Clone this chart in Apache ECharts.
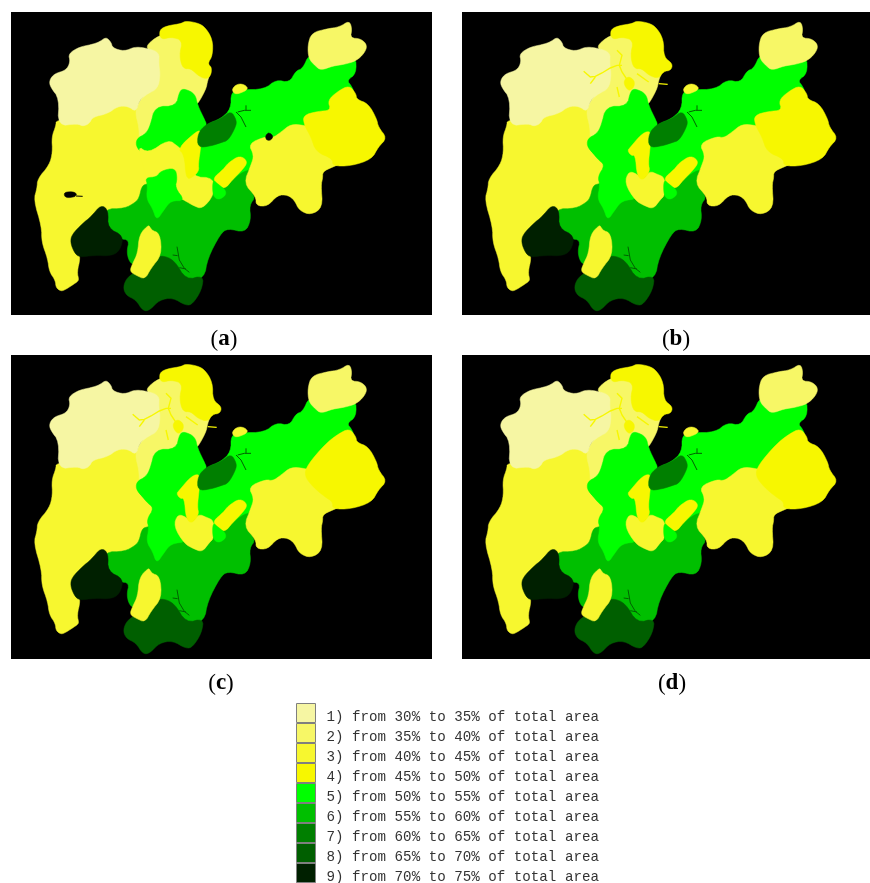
<!DOCTYPE html>
<html>
<head>
<meta charset="utf-8">
<style>html,body{margin:0;padding:0;background:#fff}#chart{width:870px;height:883px}</style>
<script src="https://cdn.jsdelivr.net/npm/echarts@6/dist/echarts.min.js"></script>
</head>
<body>
<div id="chart"></div>
<script>
// Class labels and colours
const classLabels = ['1) from 30% to 35% of total area','2) from 35% to 40% of total area','3) from 40% to 45% of total area','4) from 45% to 50% of total area','5) from 50% to 55% of total area','6) from 55% to 60% of total area','7) from 60% to 65% of total area','8) from 65% to 70% of total area','9) from 70% to 75% of total area'];
const classColors = ['#000000','#F6F6A3','#F7F766','#F7F72F','#F7F700','#00FF00','#00BF00','#007F00','#005F00','#002000'];

// Region outlines, in map units. Later regions are painted over earlier ones.
const WEST = [[135,325],[200,320],[240,300],[290,290],[325,270],[355,270],[385,290],[395,345],[395,400],[430,440],[445,460],[425,500],[425,525],[397,535],[397,570],[375,595],[345,615],[290,610],[262,595],[240,625],[215,645],[197,670],[197,700],[200,720],[208,738],[198,780],[204,805],[195,812],[165,832],[150,838],[135,827],[133,805],[115,779],[110,740],[92,690],[92,644],[68,564],[78,529],[80,500],[115,459],[125,420],[122,375],[135,340]];
const MID_NORTH = [[400,105],[445,68],[480,70],[520,85],[570,160],[600,180],[590,205],[585,232],[558,280],[550,270],[510,260],[500,310],[440,320],[420,370],[385,390],[384,345],[372,300],[385,265],[440,200],[430,120]];
const PALE = [[115,205],[130,185],[165,175],[178,150],[172,125],[205,105],[240,98],[265,90],[285,75],[300,90],[305,108],[340,118],[370,105],[400,107],[445,120],[443,155],[448,190],[440,230],[410,245],[385,265],[375,300],[350,282],[320,283],[290,305],[245,315],[235,335],[215,343],[200,335],[140,342],[145,260],[118,225]];
const NORTH_A = [[445,72],[448,50],[475,40],[510,35],[520,28],[550,30],[580,42],[605,82],[605,130],[590,155],[602,165],[600,190],[585,202],[560,190],[540,170],[515,170],[505,130],[515,85],[480,75],[455,82]];
const NORTH_B = [[445,72],[448,50],[475,40],[510,35],[520,28],[550,30],[580,42],[605,82],[605,135],[632,155],[627,175],[605,178],[590,200],[560,190],[540,170],[515,170],[505,130],[515,85],[480,75],[455,82]];
const SOUTH_GREEN = [[280,590],[340,590],[375,570],[385,555],[392,524],[405,515],[500,500],[630,500],[690,475],[715,455],[720,459],[700,514],[735,554],[715,579],[720,624],[702,662],[650,649],[628,666],[590,739],[580,798],[525,815],[480,755],[445,745],[430,700],[410,700],[395,740],[372,760],[355,750],[347,719],[355,684],[325,680],[275,650]];
const SOUTH_DARK = [[450,729],[490,744],[525,804],[578,790],[572,834],[545,876],[525,881],[485,857],[445,864],[415,896],[395,896],[375,864],[345,850],[336,824],[350,794],[385,775],[420,745]];
const SOUTH_STRIP = [[385,667],[415,636],[420,654],[447,664],[452,729],[420,769],[402,802],[375,790],[356,778],[365,754],[380,724]];
const SW_DARK = [[183,667],[215,634],[240,614],[270,578],[292,594],[290,649],[338,671],[327,716],[300,732],[250,730],[205,736],[190,722],[178,691]];
const BAND = [[660,240],[690,233],[760,232],[795,203],[835,212],[855,176],[875,170],[895,125],[925,150],[970,140],[1034,130],[1036,185],[1008,205],[1020,220],[1030,240],[990,260],[970,300],[930,330],[890,360],[850,360],[810,385],[770,395],[740,420],[740,440],[722,470],[690,480],[640,525],[600,520],[550,500],[545,445],[550,420],[560,400],[575,370],[585,338],[630,320],[660,290]];
const NE_TOP = [[890,100],[902,62],[950,50],[985,45],[1015,26],[1023,50],[1018,78],[1050,80],[1069,100],[1060,124],[1035,147],[1000,157],[965,162],[930,175],[913,162],[893,140]];
const SE_YELLOW = [[712,395],[765,373],[785,378],[810,360],[840,336],[880,340],[920,350],[950,400],[990,430],[990,455],[965,465],[935,479],[935,499],[930,519],[935,586],[900,609],[865,596],[850,564],[830,549],[800,549],[770,583],[735,581],[735,554],[698,514],[720,459],[729,430]];
const EAST_AB = [[876,310],[920,298],[960,295],[950,265],[980,238],[1015,220],[1035,245],[1037,262],[1072,275],[1097,320],[1102,345],[1128,378],[1102,405],[1082,442],[1020,462],[965,462],[965,440],[915,420],[900,375],[880,340]];
const EAST_CD = [[880,362],[889,330],[942,268],[980,238],[1015,220],[1035,245],[1037,262],[1072,275],[1097,320],[1102,345],[1128,378],[1102,405],[1082,442],[1020,462],[965,462],[965,440],[942,426],[905,395]];
const NORTH_GREEN = [[376,408],[376,380],[405,365],[418,340],[432,283],[495,283],[506,236],[520,230],[552,245],[560,280],[582,325],[587,338],[575,380],[560,420],[505,420],[472,400],[412,440]];
const WEST_ARM = [[378,400],[412,424],[472,382],[502,404],[530,429],[545,495],[609,497],[609,549],[574,591],[547,581],[522,566],[500,555],[478,525],[478,500],[450,500],[440,515],[412,510],[405,490]];
const GREEN_A = [[403,497],[437,495],[449,477],[492,467],[499,499],[492,527],[522,566],[480,566],[460,592],[437,626],[425,590],[406,560],[410,520]];
const GREEN_BCD = [[376,402],[407,442],[429,459],[407,494],[414,519],[406,560],[425,590],[437,626],[460,592],[480,566],[530,560],[510,515],[520,485],[530,490],[530,420],[502,404],[472,382],[412,424]];
const CENTER_Y = [[488,514],[500,477],[527,487],[542,504],[562,477],[587,487],[609,497],[609,549],[594,564],[574,591],[547,581],[520,566]];
const STRIP_A = [[500,409],[557,357],[571,357],[569,409],[562,454],[564,479],[537,501],[525,496],[520,429]];
const STRIP_B = [[502,409],[542,362],[569,357],[564,409],[559,454],[564,479],[542,506],[525,491],[520,429],[507,431],[497,416]];
const STRIP_E = [[605,499],[637,472],[652,452],[687,430],[711,449],[694,474],[664,504],[642,531],[620,519]];
const SMALL_GREEN = [[605,502],[622,517],[644,534],[644,551],[622,564],[605,551]];
const DARK_NOTCH = [[560,365],[585,336],[630,320],[660,296],[677,325],[674,345],[652,385],[630,392],[600,402],[560,407]];
const PATCH = [[663,230],[680,215],[702,218],[712,232],[685,245],[668,245]];
const HOLE = [[763,372],[773,360],[787,372],[780,385],[766,385]];
const SPOT = [[158,540],[192,539],[199,553],[163,559]];
const BLOB = [[486,205],[500,193],[517,205],[517,224],[502,238],[488,222]];

const regions = [
  ['West', WEST], ['Mid north', MID_NORTH], ['Pale north-west', PALE], ['North A', NORTH_A], ['North B', NORTH_B],
  ['South green', SOUTH_GREEN], ['South dark', SOUTH_DARK], ['South strip', SOUTH_STRIP], ['South-west dark', SW_DARK],
  ['Band', BAND], ['North-east', NE_TOP], ['South-east', SE_YELLOW], ['East AB', EAST_AB], ['East CD', EAST_CD],
  ['North green', NORTH_GREEN], ['West arm', WEST_ARM], ['Green A', GREEN_A], ['Green BCD', GREEN_BCD], ['Center', CENTER_Y],
  ['Strip A', STRIP_A], ['Strip B', STRIP_B], ['Strip E', STRIP_E], ['Small green', SMALL_GREEN], ['Dark notch', DARK_NOTCH],
  ['Patch', PATCH], ['Hole', HOLE], ['Spot', SPOT], ['Blob', BLOB]
];

// Class of each region per panel, same order as regions (null: region not in this panel)
const classesA = [3,2,1,4,null,6,8,3,9,5,2,3,4,null,5,3,5,null,null,4,null,4,5,7,3,0,0,null];
const classesB = [3,2,1,null,4,6,8,3,9,5,2,3,4,null,5,null,null,5,3,null,4,4,5,7,3,null,null,4];
const classesC = [3,2,1,null,4,6,8,3,9,5,2,3,null,4,5,null,null,5,3,null,4,4,5,7,3,null,null,4];
const classesD = [3,2,1,null,4,6,8,3,9,5,2,3,null,4,5,null,null,5,3,null,4,4,5,7,3,null,null,4];

// Water lines, map units
const darkRivers = [
  [[675,300],[690,315],[705,345]], [[680,300],[700,295],[720,295]], [[705,280],[705,295]],
  [[498,704],[505,744],[520,769],[535,781]], [[485,729],[500,731]], [[505,767],[525,771]]
];
const blackTail = [[[195,552],[215,553]]];
const yellowRivers = [
  [[365,178],[385,195],[400,193],[420,183],[445,168],[465,160],[480,160]], [[385,215],[400,195]],
  [[465,115],[480,130],[472,160],[480,180],[500,210]], [[465,225],[472,255]], [[525,185],[560,210]],
  [[590,215],[617,217]]
];

const panels = [
  {id:'a', classes:classesA, left:11,  top:12,  w:421, h:303, water:false, capX:224, capY:328},
  {id:'b', classes:classesB, left:462, top:12,  w:408, h:303, water:true,  capX:676, capY:328},
  {id:'c', classes:classesC, left:11,  top:355, w:421, h:304, water:true,  capX:221, capY:672},
  {id:'d', classes:classesD, left:462, top:355, w:408, h:304, water:true,  capX:672, capY:672}
];

// Outlines are drawn with rounded corners, as the reference boundaries are rounded
function roundCorners(ring, passes) {
  let pts = ring;
  for (let n = 0; n < passes; n++) {
    const next = [];
    pts.forEach((a, i) => {
      const b = pts[(i + 1) % pts.length];
      next.push([a[0] * 0.75 + b[0] * 0.25, a[1] * 0.75 + b[1] * 0.25]);
      next.push([a[0] * 0.25 + b[0] * 0.75, a[1] * 0.25 + b[1] * 0.75]);
    });
    pts = next;
  }
  return pts;
}

const identity = {project:p => p, unproject:p => p};
const bounds = [[0,0],[1263,909]];
const series = [];
const geo = [];
const grid = [];
const xAxis = [];
const yAxis = [];
const title = [];

panels.forEach((p, i) => {
  const mapName = 'basin-' + p.id;
  const used = regions.filter((r, k) => p.classes[k] !== null);
  const usedClasses = p.classes.filter(c => c !== null);
  echarts.registerMap(mapName, {
    type:'FeatureCollection',
    features: used.map(([name, ring]) => {
      const r = roundCorners(ring, 2);
      return {type:'Feature', properties:{name}, geometry:{type:'Polygon', coordinates:[r.concat([r[0]])]}};
    })
  });
  grid.push({show:true, left:p.left, top:p.top, width:p.w, height:p.h, backgroundColor:'#000', borderWidth:0, z:0});
  xAxis.push({type:'value', gridIndex:i, show:false, min:0, max:1});
  yAxis.push({type:'value', gridIndex:i, show:false, min:0, max:1});
  geo.push({
    map:mapName, projection:identity, boundingCoords:bounds, left:p.left, top:p.top, width:421, height:303, silent:true, z:1,
    itemStyle:{areaColor:'transparent', borderWidth:0, borderColor:'transparent'},
    emphasis:{disabled:true}, select:{disabled:true}, label:{show:false}
  });
  series.push({
    type:'map', name:'panel ' + p.id, map:mapName, projection:identity, boundingCoords:bounds,
    left:p.left, top:p.top, width:421, height:303, silent:true, z:2, selectedMode:false, showLegendSymbol:false,
    label:{show:false}, emphasis:{disabled:true},
    itemStyle:{borderWidth:0},
    data: used.map(([name], k) => {
      const col = classColors[usedClasses[k]];
      return {name, value:usedClasses[k], itemStyle:{areaColor:col, borderWidth:0.5, borderColor:col}};
    })
  });
  series.push({
    type:'lines', coordinateSystem:'geo', geoIndex:i, polyline:true, silent:true, z:3,
    lineStyle:{color:'#006000', width:1, opacity:1},
    data: darkRivers.map(coords => ({coords}))
  });
  if (p.water) {
    series.push({
      type:'lines', coordinateSystem:'geo', geoIndex:i, polyline:true, silent:true, z:3,
      lineStyle:{color:'#F7F700', width:1.4, opacity:1},
      data: yellowRivers.map(coords => ({coords}))
    });
  } else {
    series.push({
      type:'lines', coordinateSystem:'geo', geoIndex:i, polyline:true, silent:true, z:3,
      lineStyle:{color:'#000', width:1, opacity:1},
      data: blackTail.map(coords => ({coords}))
    });
  }
  title.push({
    text:'({b|' + p.id + '})', left:p.capX, top:p.capY, textAlign:'center', padding:0,
    textStyle:{fontFamily:'Liberation Serif', fontSize:23, fontWeight:'normal', color:'#000',
      rich:{b:{fontFamily:'Liberation Serif', fontSize:23, fontWeight:'bold', color:'#000'}}}
  });
});

// Legend entries are carried by empty series on a hidden axis pair
classLabels.forEach((name, k) => {
  series.push({type:'scatter', name, xAxisIndex:0, yAxisIndex:0, data:[], itemStyle:{color:classColors[k + 1], opacity:1}});
});

const chart = echarts.init(document.getElementById('chart'), null, {renderer:'canvas'});
chart.setOption({
  animation:false, backgroundColor:'#fff', title, grid, xAxis, yAxis, geo, series,
  legend:{
    orient:'vertical', left:296, top:703, height:220, padding:0, itemGap:-1, itemWidth:19, itemHeight:19, icon:'rect',
    selectedMode:false, data:classLabels,
    itemStyle:{borderColor:'#7f7f7f', borderWidth:1, opacity:1},
    formatter:name => '{t|' + name + '}',
    textStyle:{rich:{t:{fontFamily:'Liberation Mono', fontSize:14.2, color:'#333', padding:[8,0,0,6], height:11, lineHeight:11}}}
  }
});
</script>
</body>
</html>
